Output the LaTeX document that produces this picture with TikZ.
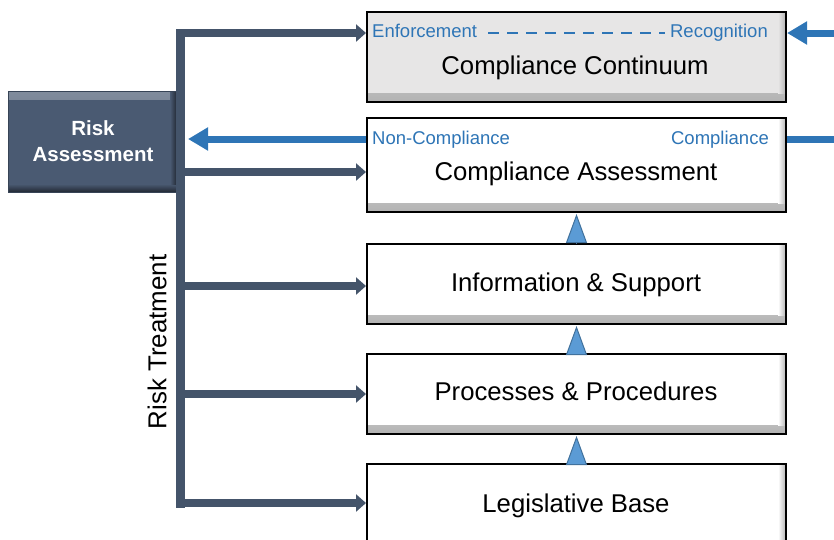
\documentclass[tikz,border=0pt]{standalone}
\usepackage{fontspec}
\setmainfont{Liberation Sans}
\usetikzlibrary{arrows.meta,positioning}

\definecolor{ardesia}{HTML}{44546A}
\definecolor{rabox}{HTML}{4A5A72}
\definecolor{flusso}{HTML}{2E75B6}
\definecolor{trifill}{HTML}{5B9BD5}
\definecolor{triline}{HTML}{41719C}
\definecolor{grigio}{HTML}{E7E6E6}

\tikzset{
  bevel/.style={fill=#1, path picture={
      \shade[top color=#1, bottom color=black!30]
        ([yshift=9pt]path picture bounding box.south west) rectangle (path picture bounding box.south east);
      \shade[left color=#1, right color=black!30]
        ([xshift=-8pt]path picture bounding box.north east) rectangle ([yshift=9pt]path picture bounding box.south east);}},
  riquadro/.style={draw=black, line width=2pt, minimum width=419pt, inner sep=0pt, bevel=#1},
  riquadro/.default=white,
  rischio/.style={fill=rabox, draw=rabox!75!black, line width=1pt,
    minimum width=170pt, minimum height=101pt, text=white, align=center,
    font=\bfseries\fontsize{20.5}{26}\selectfont, path picture={
      \shade[top color=rabox!70!white, bottom color=rabox]
        (path picture bounding box.north west) rectangle ([yshift=-8pt]path picture bounding box.north east);
      \shade[top color=rabox, bottom color=rabox!45!black]
        ([yshift=8pt]path picture bounding box.south west) rectangle (path picture bounding box.south east);
      \shade[left color=rabox, right color=rabox!35!black]
        ([xshift=-8pt]path picture bounding box.north east) rectangle ([yshift=8pt]path picture bounding box.south east);}},
  titolo/.style={font=\fontsize{25.7}{30}\selectfont, inner sep=0pt, anchor=base},
  etichetta/.style={text=flusso, font=\fontsize{18.5}{20}\selectfont, inner sep=0pt},
  ramo/.style={draw=ardesia, line width=8pt, -{Triangle[width=17pt,length=10pt]}},
  montante/.style={draw=ardesia, line width=9pt, line cap=rect},
  freccia/.style={draw=flusso, line width=7pt, -{Triangle[width=22pt,length=20pt]}},
  linea/.style={draw=flusso, line width=7pt},
  spinta/.style={draw=triline, line width=1pt, shorten >=1pt,
    -{Triangle[width=21pt,length=29pt,fill=trifill]}},
  tratteggio/.style={draw=flusso, line width=2.5pt, dash pattern=on 11pt off 8pt}
}

\begin{document}
\begin{tikzpicture}[x=1pt,y=-1pt]
    % --- Cornice ---
    \useasboundingbox (0,0) rectangle (834,539);
    \clip (0,0) rectangle (834,539);
    \def\cx{576.5} % centro dei riquadri
    \def\rx{180}   % montante del trattamento

    % --- Riquadri ---
    \node[riquadro=grigio, minimum height=90pt] (cont) at (\cx,57) {};
    \node[riquadro, minimum height=94pt] (assess) at (\cx,165) {};
    \node[riquadro, minimum height=80pt] (info) at (\cx,284) {};
    \node[riquadro, minimum height=80pt] (proc) at (\cx,394) {};
    \node[riquadro, minimum height=90pt] (legis) at (\cx,509) {};

    % --- Titoli ---
    \node[titolo] (contT) at (575,74) {Compliance Continuum};
    \node[titolo] (assessT) at (576,180) {Compliance Assessment};
    \node[titolo] (infoT) at (576,291) {Information \& Support};
    \node[titolo] (procT) at (576,400) {Processes \& Procedures};
    \node[titolo] (legisT) at (576,512) {Legislative Base};

    % --- Etichette blu ---
    \node[etichetta, anchor=base west] (enf) at (372,37) {Enforcement};
    \node[etichetta, anchor=base east] (rec) at (768,37) {Recognition};
    \node[etichetta, anchor=base west] (noncomp) at (372,144) {Non-Compliance};
    \node[etichetta, anchor=base east] (comp) at (769,144) {Compliance};
    \draw[tratteggio] ([xshift=11pt]enf.east |- 0,33) -- ([xshift=-5pt]rec.west |- 0,33);

    % --- Risk Assessment ---
    \node[rischio] (ra) at (93,141.5) {Risk\\Assessment};
    \node[rotate=90, font=\fontsize{25.9}{28}\selectfont, inner sep=0pt] (rt) at (157,342) {Risk Treatment};

    % --- Montante e rami ---
    \draw[montante] (\rx,33) -- (\rx,503);
    \foreach \b/\y in {cont/33, assess/172, info/286, proc/394, legis/503}
        \draw[ramo] (\rx,\y) -- (\b.west |- 0,\y);

    % --- Frecce blu ---
    \coordinate (rin) at (834,33);
    \coordinate (rout) at (834,139);
    \coordinate (rtip) at (188,139);
    \draw[freccia] (rin) -- (cont.east |- rin);
    \draw[linea] (assess.east |- rout) -- (rout);
    \draw[freccia] (assess.west |- rout) -- (rtip);

    % --- Triangoli tra i livelli ---
    \foreach \lo/\hi in {legis/proc, proc/info, info/assess}
        \draw[spinta] (\lo.north) -- (\hi.south);
\end{tikzpicture}
\end{document}
